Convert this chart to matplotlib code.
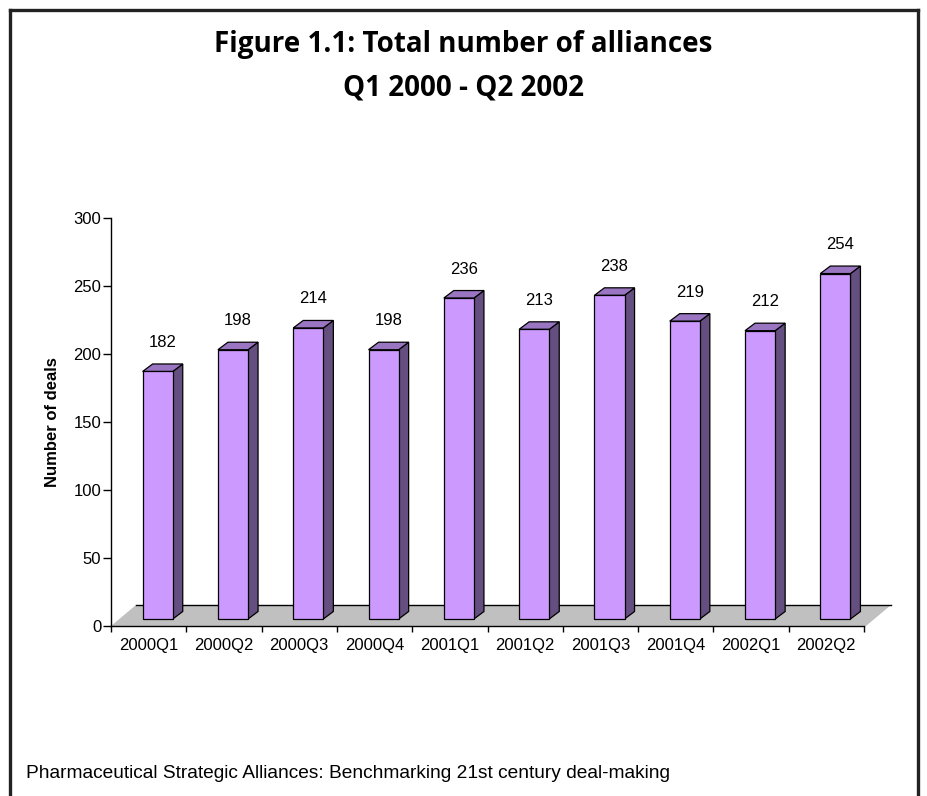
import matplotlib
matplotlib.use('Agg')
import matplotlib.pyplot as plt
from matplotlib.patches import Polygon, Rectangle
from matplotlib.lines import Line2D
import numpy as np

plt.rcParams['font.family'] = ['Liberation Sans', 'DejaVu Sans']

# ---- data ----
categories = ['2000Q1', '2000Q2', '2000Q3', '2000Q4', '2001Q1',
              '2001Q2', '2001Q3', '2001Q4', '2002Q1', '2002Q2']
deals = [182, 198, 214, 198, 236, 213, 238, 219, 212, 254]
y_ticks = [0, 50, 100, 150, 200, 250, 300]

title_line1 = 'Figure 1.1: Total number of alliances'
title_line2 = 'Q1 2000 - Q2 2002'
y_label = 'Number of deals'
footer = 'Pharmaceutical Strategic Alliances: Benchmarking 21st century deal-making'

# ---- styles ----
FRONT = '#cc99ff'
SIDE = '#654e80'
TOP = '#9a76c2'
FLOOR = '#c0c0c0'

W, H = 927, 796
fig = plt.figure(figsize=(W / 100, H / 100), dpi=100)
AX_L, AX_R, AX_T, AX_B = 111, 864, 218, 626
ax = fig.add_axes([AX_L / W, 1 - AX_B / H, (AX_R - AX_L) / W, (AX_B - AX_T) / H])
n = len(categories)
ax.set_xlim(-0.5, n - 0.5)
ax.set_ylim(0, 300)

ppx = (AX_R - AX_L) / n
ppy = (AX_B - AX_T) / 300.0
def dxd(px):
    return px / ppx
def dyd(px):
    return px / ppy

# floor
fdx, fdy = dxd(25), dyd(21)
floor = Polygon([(-0.5, 0), (n - 0.5 + dxd(2), 0),
                 (n - 0.5 + dxd(2) + fdx, fdy), (-0.5 + fdx, fdy)],
                closed=True, facecolor=FLOOR, edgecolor='none', clip_on=False, zorder=1)
ax.add_patch(floor)
ax.add_line(Line2D([-0.5 + fdx, n - 0.5 + dxd(2) + fdx], [fdy, fdy],
                   color='black', lw=1.0, clip_on=False, zorder=1.5))

# bars
bar_off, bar_w = 0.12, 0.40
ddx, ddy = dxd(10), dyd(7.5)
base = dyd(7)
for i, v in enumerate(deals):
    x0 = i + bar_off - bar_w / 2
    x1 = x0 + bar_w
    yb = base
    yt = v + base
    side = Polygon([(x1, yb), (x1 + ddx, yb + ddy), (x1 + ddx, yt + ddy), (x1, yt)],
                   closed=True, facecolor=SIDE, edgecolor='black', lw=0.9,
                   clip_on=False, zorder=2)
    top = Polygon([(x0, yt), (x1, yt), (x1 + ddx, yt + ddy), (x0 + ddx, yt + ddy)],
                  closed=True, facecolor=TOP, edgecolor='black', lw=0.9,
                  clip_on=False, zorder=2)
    front = Rectangle((x0, yb), bar_w, v, facecolor=FRONT, edgecolor='black',
                      lw=0.9, clip_on=False, zorder=3)
    ax.add_patch(side)
    ax.add_patch(top)
    ax.add_patch(front)
    ax.text(i + bar_off + dxd(5), yt + dyd(29), str(v), ha='center', va='center',
            fontsize=12, color='black', zorder=4)

# axes styling
for s in ['top', 'right']:
    ax.spines[s].set_visible(False)
for s in ['left', 'bottom']:
    ax.spines[s].set_color('black')
    ax.spines[s].set_linewidth(1.0)
    ax.spines[s].set_zorder(5)
ax.set_yticks(y_ticks)
ax.set_yticklabels([str(t) for t in y_ticks], fontsize=12)
ax.tick_params(axis='y', direction='out', length=5.5, width=1, pad=1.5, colors='black')

ax.set_xticks(np.arange(-0.5, n, 1.0))
ax.set_xticklabels([])
ax.set_xticks(np.arange(n), minor=True)
ax.set_xticklabels(categories, minor=True, fontsize=12)
ax.tick_params(axis='x', which='major', direction='out', length=4.5, width=1)
ax.tick_params(axis='x', which='minor', length=0, pad=8.5)

ax.set_ylabel(y_label, fontsize=12, fontweight='bold', labelpad=10)
ax.patch.set_alpha(0)

# title
fig.text(0.5, 1 - 52 / H, title_line1, ha='center', va='baseline',
         fontsize=20, fontweight='bold', family=['Open Sans', 'DejaVu Sans'])
fig.text(0.5, 1 - 95 / H, title_line2, ha='center', va='baseline',
         fontsize=20, fontweight='bold', family=['Open Sans', 'DejaVu Sans'])

# footer
fig.text(26 / W, 1 - 773 / H, footer, ha='left', va='center', fontsize=13.8)

# border
BL, BT, BR = 10, 10, 918
for xs, ys in [([BL, BL], [BT, H + 5]), ([BL, BR], [BT, BT]), ([BR, BR], [BT, H + 5])]:
    fig.add_artist(Line2D([x / W for x in xs], [1 - y / H for y in ys],
                          color='#222222', lw=2.4, transform=fig.transFigure))

fig.savefig('out.png', dpi=100)
